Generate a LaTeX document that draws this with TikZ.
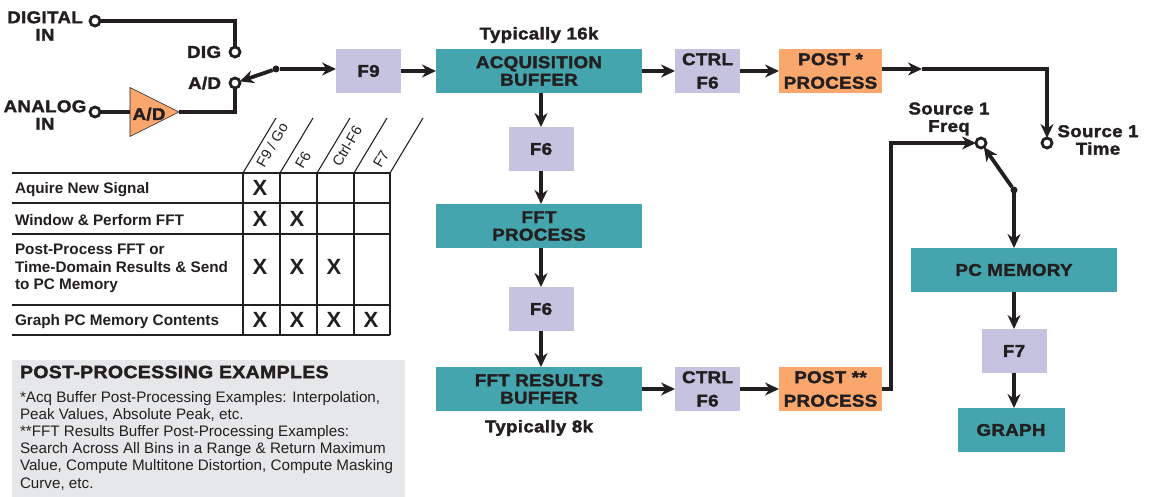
\documentclass[tikz,border=0pt]{standalone}
\usepackage{fontspec}
\setmainfont{Liberation Sans}
\newfontfamily\heavyfont[UprightFont={* Bold},FakeBold=2,FakeStretch=1.1,LetterSpace=2]{Liberation Sans}
\usetikzlibrary{shapes.geometric}
\usetikzlibrary{positioning}
\usetikzlibrary{arrows.meta}
\definecolor{tealbox}{HTML}{44A5AE}
\definecolor{keybox}{HTML}{C6C3E1}
\definecolor{postbox}{HTML}{F9A76C}
\definecolor{notegrey}{HTML}{E6E7E8}
\definecolor{inkline}{HTML}{231F20}

\begin{document}
\begin{tikzpicture}[x=1pt,y=-1pt,>={Stealth[length=14pt,width=13pt]},
	every node/.style={text=inkline,inner sep=0pt,outer sep=0pt},
	heavy/.style={font=\heavyfont\fontsize{17}{17.5}\selectfont,align=center},
	block/.style={heavy,fill=tealbox,minimum width=206pt,minimum height=44pt},
	keyb/.style={heavy,fill=keybox,minimum width=65pt,minimum height=44pt},
	postb/.style={heavy,fill=postbox,minimum width=103pt,minimum height=44pt},
	term/.style={circle,draw=inkline,fill=white,line width=2.8pt,minimum size=10pt},
	swdot/.style={circle,fill=inkline,minimum size=7pt},
	wire/.style={draw=inkline,line width=3.8pt},
	rule/.style={draw=inkline,line width=1.1pt},
	rowlabel/.style={font=\bfseries\fontsize{15.3}{17.5}\selectfont,align=left,anchor=west},
	collabel/.style={font=\fontsize{14.5}{15}\selectfont,rotate=60},
	xmark/.style={font=\bfseries\fontsize{22}{22}\selectfont}]
	
	\useasboundingbox (0,0) rectangle (1149,497);
	
	% main chain
	\node[keyb] (f9) at (368.5,71) {F9};
	\node[block] (acq) [right=35pt of f9] {ACQUISITION\\BUFFER};
	\node[keyb] (ctrla) [right=33pt of acq] {CTRL\\[6pt]F6};
	\node[postb] (posta) [right=39pt of ctrla] {POST *\\[6pt]PROCESS};
	\node[keyb] (f6a) [below=34pt of acq,xshift=2pt] {F6};
	\node[block] (fft) [below=33pt of f6a,xshift=-2pt] {FFT\\PROCESS};
	\node[keyb] (f6b) [below=39pt of fft,xshift=2pt] {F6};
	\node[block] (res) [below=36pt of f6b,xshift=-2pt] {FFT RESULTS\\BUFFER};
	\node[keyb] (ctrlb) [right=33pt of res] {CTRL\\[6pt]F6};
	\node[postb] (postb) [right=39pt of ctrlb] {POST **\\[6pt]PROCESS};
	\node[heavy] (typa) [above=6pt of acq] {Typically 16k};
	\node[heavy] (typb) [below=9pt of res] {Typically 8k};
	
	% right side
	\node[block] (pc) at (1014,270) {PC MEMORY};
	\node[keyb] (f7) [below=37pt of pc] {F7};
	\node[block,minimum width=107pt] (graph) [below=35pt of f7,xshift=-3pt] {GRAPH};
	\node[term] (tfreq) at (981,143) {};
	\node[term] (ttime) at (1047,143) {};
	\node[swdot] (swb) at (1014,190) {};
	\node[heavy] (lfreq) at (949,119) {Source 1\\Freq};
	\node[heavy] (ltime) at (1098,140) {Source 1\\Time};
	\coordinate (midb) at (922,69);
	\coordinate (cornb) at (891,143);
	
	% inputs
	\node[term] (tdig) at (95,21) {};
	\node[term] (tana) at (95,112) {};
	\node[term] (sdig) at (235,52) {};
	\node[term] (sad) at (235,83) {};
	\node[swdot] (swa) at (276,69) {};
	\node[heavy] (ldig) at (45,26) {DIGITAL\\IN};
	\node[heavy] (lana) at (45,115) {ANALOG\\IN};
	\node[heavy,anchor=east] (ds) at (221,52) {DIG};
	\node[heavy,anchor=east] (as) at (221,83) {A/D};
	\node[isosceles triangle,isosceles triangle apex angle=53,isosceles triangle stretches,
		draw=inkline,line width=0.6pt,fill=postbox,minimum width=49pt,minimum height=49pt,
		anchor=lower side] (conv) at (130,112) {};
	\node[heavy] (lconv) at (149,114) {A/D};
	
	\path[wire]
	(tdig) -| (sdig)
	(tana) -- (conv.lower side)
	(conv.apex) -| (sad);
	\draw[wire,->] (swa) -- (sad);
	\draw[wire,->] (swa) -- (f9.west |- swa);
	\draw[wire,->] (f9) -- (acq);
	\draw[wire,->] (acq) -- (ctrla);
	\draw[wire,->] (ctrla) -- (posta);
	\draw[wire,->] (posta.east |- midb) -- (midb);
	\draw[wire,->] (midb) -| (ttime);
	\draw[wire,->] (acq.south -| f6a) -- (f6a);
	\draw[wire,->] (f6a) -- (f6a |- fft.north);
	\draw[wire,->] (fft.south -| f6b) -- (f6b);
	\draw[wire,->] (f6b) -- (f6b |- res.north);
	\draw[wire,->] (res) -- (ctrlb);
	\draw[wire,->] (ctrlb) -- (postb);
	\draw[wire,->] (postb.east) -| (cornb) -- (tfreq);
	\draw[wire,->] (swb) -- (tfreq);
	\draw[wire,->] (swb) -- (pc);
	\draw[wire,->] (pc) -- (f7);
	\draw[wire,->] (f7) -- (f7 |- graph.north);
	
	% key table
	\foreach \yy in {173,203,234,305,335}
		\draw[rule] (12,\yy) -- (390,\yy);
	\foreach \xx in {243,280,317,354,390}
		\draw[rule] (\xx,173) -- (\xx,335);
	\foreach \xx in {243,280,317,354,390}
		\draw[rule] (\xx,173) -- ++(33,-55);
	
	\node[collabel] (ca) at (272,145) {F9 / Go};
	\node[collabel] (cb) at (303,160) {F6};
	\node[collabel] (cc) at (347,146) {Ctrl-F6};
	\node[collabel] (cd) at (381,159) {F7};
	
	\node[rowlabel] (ra) at (15,189.5) {Aquire New Signal};
	\node[rowlabel] (rb) at (15,220) {Window \& Perform FFT};
	\node[rowlabel] (rc) at (15,268.5) {Post-Process FFT or\\Time-Domain Results \& Send\\to PC Memory};
	\node[rowlabel] (rd) at (15,321.5) {Graph PC Memory Contents};
	
	\foreach \xx/\yy in {260/188,260/219,297/219,260/267,297/267,334/267,260/320,297/320,334/320,371/320}
		\node[xmark] at (\xx,\yy) {X};
	
	% notes
	\node[fill=notegrey,minimum width=393pt,minimum height=137pt,anchor=north west] (notes) at (12,360) {};
	\node[anchor=west,font=\heavyfont\fontsize{17.7}{18}\selectfont] (ntitle) at (20,372) {POST-PROCESSING EXAMPLES};
	\node[anchor=north west,align=left,font=\fontsize{15.2}{17.2}\selectfont] (nbody) at (20,391) {*Acq Buffer Post-Processing Examples: Interpolation,\\Peak Values, Absolute Peak, etc.\\**FFT Results Buffer Post-Processing Examples:\\Search Across All Bins in a Range \& Return Maximum\\Value, Compute Multitone Distortion, Compute Masking\\Curve, etc.};
	\end{tikzpicture}
\end{document}
